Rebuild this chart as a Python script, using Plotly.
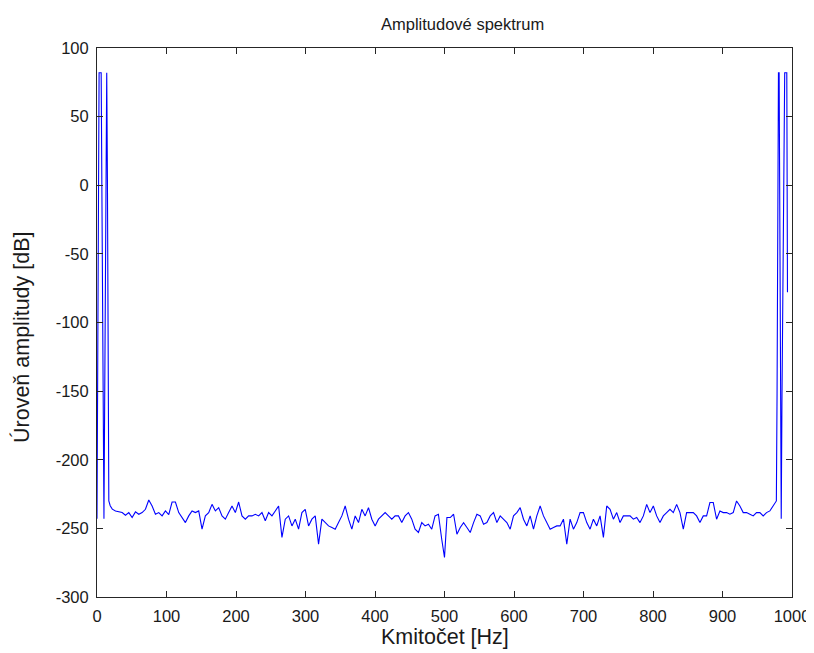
import plotly.graph_objects as go

# ---- data ----
# left peak cluster (1 Hz steps)
left_hz = [0, 1, 2, 3, 4, 5, 6, 7, 8, 9, 10, 11, 12, 13, 14, 15, 16, 17, 19, 22]
left_db = [-243, -78, 82, 82, 82, 82, 82, 0, -80, -161, -243, -161, -80, 82, 82, 4, -152, -230, -233.5, -236]

# noise floor, lower half (starts at 26.6 Hz, step ~4.79 Hz)
noise_lo_start = 26.6
noise_step = 4.79
noise_lo_db = [
    -237.3, -237.8, -238.5, -240.4, -238.5, -242.1, -238.0, -239.7, -238.5, -236.1,
    -229.3, -233.7, -239.7, -238.5, -240.9, -237.3, -240.0, -230.8, -230.8, -238.5,
    -242.1, -245.8, -240.9, -237.3, -238.5, -237.3, -250.6, -240.9, -238.5, -232.5,
    -237.3, -234.9, -240.9, -243.3, -238.5, -233.7, -238.5, -230.8, -240.9, -243.3,
    -240.9, -240.9, -239.7, -240.9, -238.5, -244.5, -238.5, -240.9, -237.3, -233.7,
    -256.6, -243.3, -240.9, -248.2, -243.3, -250.6, -238.5, -236.1, -248.2, -243.3,
    -240.9, -261.5, -243.3, -245.8, -248.2, -249.4, -250.6, -245.8, -240.9, -233.7,
    -243.3, -250.6, -240.9, -245.8, -236.1, -240.9, -234.9, -243.3, -248.2, -243.3,
    -240.9, -238.5, -240.9, -243.3, -240.9, -240.9, -245.8, -240.9, -238.5, -243.3,
    -250.6, -253.0, -245.8, -248.2, -247.0, -250.6, -240.9, -239.7, -257.9,
]

# central dip
mid_hz = [500]
mid_db = [-271.2]

# noise floor, upper half (starts at 503.5 Hz, same step)
noise_hi_start = 503.5
noise_hi_db = [
    -242.1, -242.1, -239.7, -254.2, -249.4, -245.8, -249.4, -253.0, -245.8, -239.7,
    -240.9, -247.0, -245.8, -240.9, -238.5, -245.8, -240.9, -243.3, -245.8, -250.6,
    -240.9, -238.5, -234.9, -243.3, -248.2, -240.9, -250.6, -240.9, -233.7, -240.9,
    -245.8, -250.6, -249.4, -248.2, -248.2, -243.3, -261.5, -243.3, -250.6, -245.8,
    -238.5, -238.5, -245.8, -250.6, -243.3, -248.2, -240.9, -256.6, -233.7, -236.1,
    -243.3, -238.5, -245.8, -240.9, -240.9, -240.9, -243.3, -242.1, -245.8, -240.9,
    -232.5, -238.5, -233.7, -240.9, -245.8, -240.9, -238.5, -236.1, -238.5, -232.5,
    -238.5, -250.6, -238.5, -238.5, -238.5, -240.9, -245.8, -240.9, -240.9, -231.2,
    -231.2, -243.3, -237.3, -238.5, -238.5, -239.7, -238.5, -230.0, -233.7, -238.5,
    -238.5, -239.7, -240.9, -238.5, -238.5, -240.9, -238.5, -237.3, -233.7,
]

# right peak cluster (1 Hz steps)
right_hz = [975.5, 977.5, 978.5, 979.5, 980.5, 981.5, 982.5, 983.5, 984.5, 985.5,
            986.5, 987.5, 988.5, 989.5, 990.5, 991.5, 992.5, 993.5]
right_db = [-231, -230, -152, 4, 82, 82, -80, -161, -243, -161,
            -80, 0, 82, 82, 82, 82, 82, -78]

x_ticks = [0, 100, 200, 300, 400, 500, 600, 700, 800, 900, 1000]
y_ticks = [-300, -250, -200, -150, -100, -50, 0, 50, 100]

title_text = "Amplitudové spektrum"
x_label = "Kmitočet [Hz]"
y_label = "Úroveň amplitudy [dB]"

# ---- assemble series ----
noise_lo_hz = [noise_lo_start + i * noise_step for i in range(len(noise_lo_db))]
noise_hi_hz = [noise_hi_start + i * noise_step for i in range(len(noise_hi_db))]
freq = left_hz + noise_lo_hz + mid_hz + noise_hi_hz + right_hz
level = left_db + noise_lo_db + mid_db + noise_hi_db + right_db

FONT = "Liberation Sans, Arial, sans-serif"
TXT = "#1a1a1a"

fig = go.Figure()
fig.add_trace(go.Scatter(x=freq, y=level, mode="lines",
                         line=dict(color="#0000FF", width=1.1),
                         showlegend=False, hoverinfo="x+y"))

axis_common = dict(
    showline=True, linecolor="#262626", linewidth=1, mirror="allticks",
    ticks="inside", ticklen=6, tickcolor="#262626", tickwidth=1,
    showgrid=False, zeroline=False, automargin=False,
    tickfont=dict(family=FONT, size=16.5, color=TXT),
    ticklabelstandoff=4,
)

# the page body adds an 8 px offset, so the figure is 8 px smaller
fig.update_layout(
    width=806, height=645,
    margin=dict(l=89, r=22, t=40, b=56),
    paper_bgcolor="white", plot_bgcolor="white",
    xaxis=dict(range=[0, 1000], tickvals=x_ticks, ticktext=[str(v) for v in x_ticks],
               **axis_common),
    yaxis=dict(range=[-300, 100], tickvals=y_ticks, ticktext=[str(v) for v in y_ticks],
               **axis_common),
    annotations=[
        dict(text=title_text, xref="paper", yref="paper", x=0.5266, y=1.0437,
             xanchor="center", yanchor="middle", showarrow=False,
             font=dict(family=FONT, size=16.5, color=TXT)),
        dict(text=x_label, xref="paper", yref="paper", x=0.5, y=-0.0729,
             xanchor="center", yanchor="middle", showarrow=False,
             font=dict(family=FONT, size=21.5, color=TXT)),
        dict(text=y_label, xref="paper", yref="paper", x=-0.1079, y=0.4736,
             xanchor="center", yanchor="middle", showarrow=False, textangle=-90,
             font=dict(family=FONT, size=21.5, color=TXT)),
    ],
)

fig.write_html("out.html")
